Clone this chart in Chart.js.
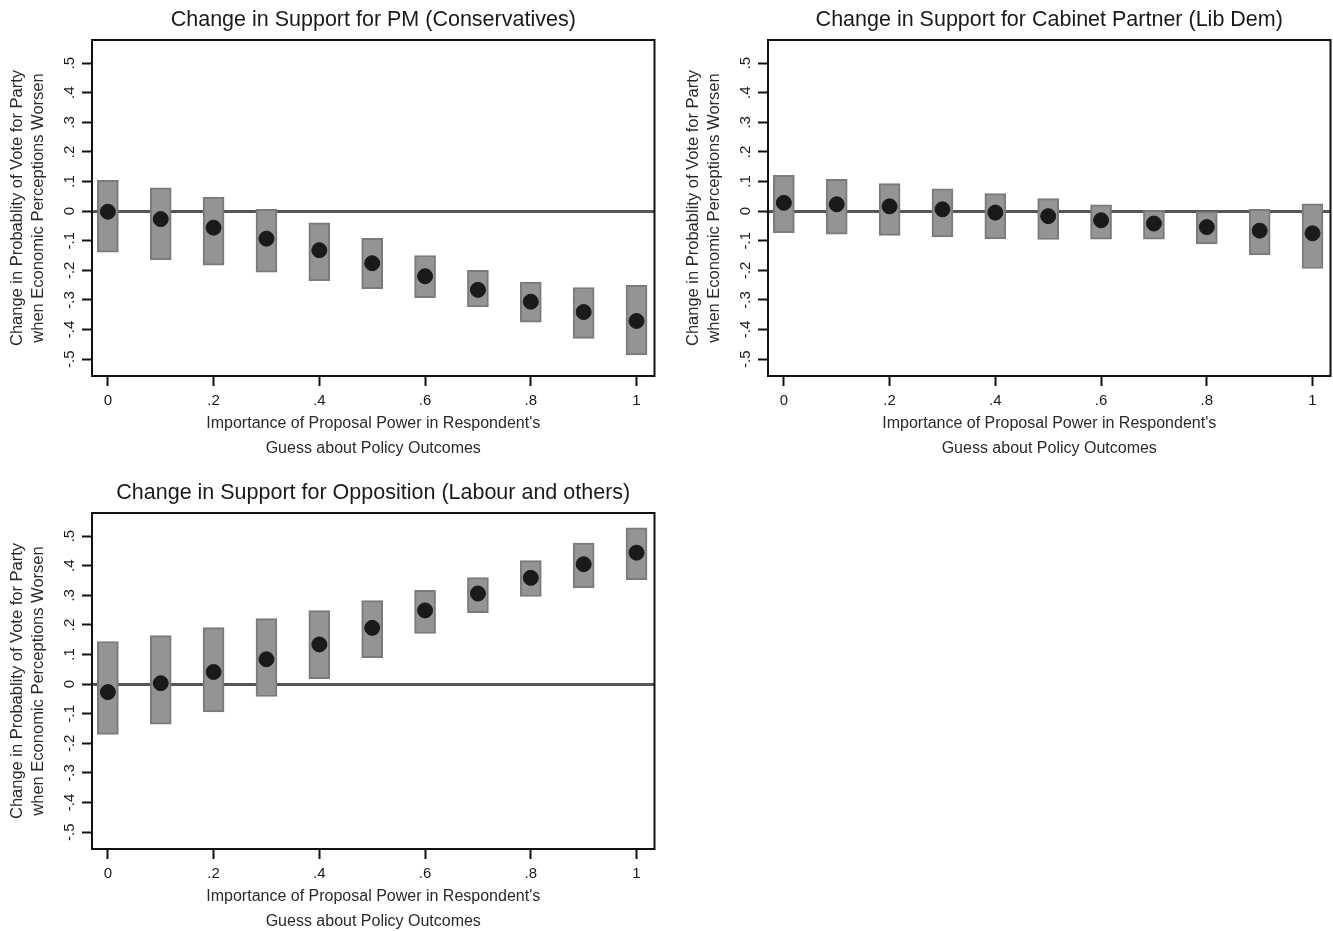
<!DOCTYPE html>
<html>
<head>
<meta charset="utf-8">
<script src="https://cdn.jsdelivr.net/npm/chart.js@4/dist/chart.umd.min.js"></script>
<style>
  body { margin: 0; background: #fff; overflow: hidden; }
  canvas { position: absolute; }
</style>
</head>
<body>
<canvas id="pm-chart" width="663" height="461" style="left:0;top:0"></canvas>
<canvas id="ld-chart" width="663" height="461" style="left:676px;top:0"></canvas>
<canvas id="op-chart" width="663" height="461" style="left:0;top:473px"></canvas>
<script>
'use strict';
let xValues = [0, 0.1, 0.2, 0.3, 0.4, 0.5, 0.6, 0.7, 0.8, 0.9, 1];
let xTicks = [0, 0.2, 0.4, 0.6, 0.8, 1];
let yTicks = [-0.5, -0.4, -0.3, -0.2, -0.1, 0, 0.1, 0.2, 0.3, 0.4, 0.5];

// PM (Conservatives)
let pmLow = [-0.139, -0.164, -0.183, -0.206, -0.235, -0.262, -0.292, -0.324, -0.375, -0.430, -0.486];
let pmHigh = [0.104, 0.079, 0.047, 0.006, -0.040, -0.092, -0.150, -0.200, -0.240, -0.258, -0.251];
let pmEst = [-0.002, -0.027, -0.056, -0.093, -0.132, -0.176, -0.220, -0.266, -0.306, -0.341, -0.371];

// Cabinet partner (Lib Dem)
let ldLow = [-0.073, -0.078, -0.082, -0.087, -0.094, -0.096, -0.095, -0.095, -0.111, -0.148, -0.194];
let ldHigh = [0.121, 0.107, 0.093, 0.075, 0.059, 0.042, 0.021, 0.003, -0.002, 0.006, 0.025];
let ldEst = [0.028, 0.023, 0.016, 0.006, -0.005, -0.017, -0.031, -0.042, -0.054, -0.066, -0.075];

// Opposition (Labour and others)
let opLow = [-0.170, -0.135, -0.094, -0.042, 0.018, 0.089, 0.171, 0.241, 0.296, 0.326, 0.353];
let opHigh = [0.144, 0.164, 0.191, 0.221, 0.248, 0.282, 0.317, 0.360, 0.417, 0.476, 0.528];
let opEst = [-0.027, 0.003, 0.041, 0.084, 0.134, 0.190, 0.249, 0.306, 0.359, 0.405, 0.444];

let fontFamily = '"Liberation Sans", Arial, Helvetica, sans-serif';

function tickLabel(v) {
    if (Math.abs(v) < 1e-9) return '0';
    if (v === 1) return '1';
    return v.toFixed(1).replace('0.', '.');
}

// draws the box around the plot and the panel title
let framePlugin = {
    id: 'frame',
    afterDraw(chart) {
        let a = chart.chartArea;
        let ctx = chart.ctx;
        ctx.save();
        ctx.strokeStyle = '#111';
        ctx.lineWidth = 2;
        ctx.strokeRect(a.left, a.top, a.right - a.left, a.bottom - a.top);
        ctx.fillStyle = '#1a1a1a';
        ctx.font = '21.5px ' + fontFamily;
        ctx.textAlign = 'center';
        ctx.textBaseline = 'middle';
        ctx.fillText(chart.options.plugins.frame.text, (a.left + a.right) / 2, 20);
        ctx.restore();
    }
};

function makePanel(canvasId, title, low, high, est) {
    let ctx = document.getElementById(canvasId).getContext('2d');
    let bars = xValues.map((x, i) => ({ x: x, y: [low[i], high[i]] }));
    let dots = xValues.map((x, i) => ({ x: x, y: est[i] }));

    return new Chart(ctx, {
        type: 'bar',
        data: {
            datasets: [
                {
                    type: 'scatter',
                    data: dots,
                    backgroundColor: '#1a1a1a',
                    borderColor: '#1a1a1a',
                    pointRadius: 7.5,
                    pointHoverRadius: 7.5,
                    order: 0
                },
                {
                    type: 'bar',
                    data: bars,
                    backgroundColor: '#949496',
                    borderColor: '#7a7a7c',
                    borderWidth: 2,
                    borderSkipped: false,
                    barThickness: 21,
                    order: 1
                }
            ]
        },
        plugins: [framePlugin],
        options: {
            responsive: false,
            animation: false,
            layout: { padding: { top: 40, right: 2, left: 0, bottom: 0 } },
            plugins: {
                legend: { display: false },
                tooltip: { enabled: false },
                frame: { text: title }
            },
            scales: {
                x: {
                    type: 'linear',
                    offset: false,
                    min: -0.03,
                    max: 1.034,
                    afterBuildTicks: (axis) => { axis.ticks = xTicks.map(v => ({ value: v })); },
                    afterFit: (axis) => { axis.height = 85; },
                    border: { display: false },
                    grid: {
                        offset: false,
                        color: 'rgba(0,0,0,0)',
                        drawTicks: true,
                        tickLength: 10,
                        tickColor: '#111',
                        tickWidth: 2
                    },
                    ticks: {
                        color: '#1a1a1a',
                        padding: 6,
                        maxRotation: 0,
                        font: { size: 15, family: fontFamily },
                        callback: (v) => tickLabel(v)
                    },
                    title: {
                        display: true,
                        text: ["Importance of Proposal Power in Respondent's", 'Guess about Policy Outcomes'],
                        color: '#2a2a2a',
                        padding: { top: 0, bottom: 0 },
                        font: { size: 16, family: fontFamily, lineHeight: 1.56 }
                    }
                },
                y: {
                    min: -0.557,
                    max: 0.578,
                    afterBuildTicks: (axis) => { axis.ticks = yTicks.map(v => ({ value: v })); },
                    afterFit: (axis) => { axis.width = 92; },
                    border: { display: false },
                    grid: {
                        color: (c) => (c.tick && Math.abs(c.tick.value) < 1e-9) ? '#555' : 'rgba(0,0,0,0)',
                        lineWidth: 3,
                        drawTicks: true,
                        tickLength: 10,
                        tickColor: '#111',
                        tickWidth: 2
                    },
                    ticks: {
                        color: '#1a1a1a',
                        padding: 3,
                        minRotation: 90,
                        maxRotation: 90,
                        crossAlign: 'center',
                        font: { size: 15, family: fontFamily },
                        callback: (v) => tickLabel(v)
                    },
                    title: {
                        display: true,
                        text: ['Change in Probablity of Vote for Party', 'when Economic Perceptions Worsen'],
                        color: '#2a2a2a',
                        padding: { top: 6, bottom: 0 },
                        font: { size: 16.5, family: fontFamily, lineHeight: 1.33 }
                    }
                }
            }
        }
    });
}

makePanel('pm-chart', 'Change in Support for PM (Conservatives)', pmLow, pmHigh, pmEst);
makePanel('ld-chart', 'Change in Support for Cabinet Partner (Lib Dem)', ldLow, ldHigh, ldEst);
makePanel('op-chart', 'Change in Support for Opposition (Labour and others)', opLow, opHigh, opEst);
</script>
</body>
</html>
